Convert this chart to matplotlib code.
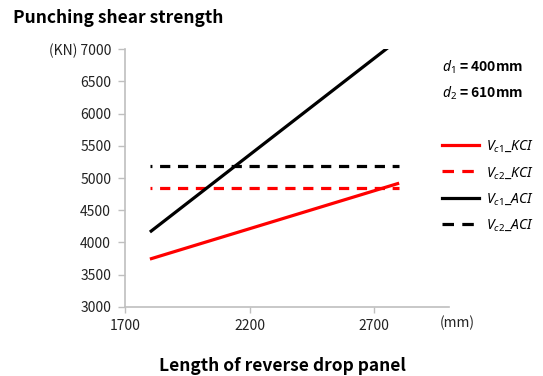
import matplotlib
matplotlib.use("Agg")
import matplotlib.pyplot as plt
from matplotlib.lines import Line2D

# Length of reverse drop panel (mm)
lengths = [1800, 2800]
# Punching shear strength (kN)
vc1_kci = [3740, 4920]
vc2_kci = [4850, 4850]
vc1_aci = [4160, 7160]
vc2_aci = [5180, 5180]

x_ticks = [1700, 2200, 2700]
y_ticks = [3000, 3500, 4000, 4500, 5000, 5500, 6000, 6500, 7000]
y_tick_labels = [str(v) for v in y_ticks[:-1]] + ["(KN) 7000"]

series_labels = [r"$V_{c1}\_KCI$", r"$V_{c2}\_KCI$", r"$V_{c1}\_ACI$", r"$V_{c2}\_ACI$"]

plt.rcParams["font.family"] = ["Noto Sans CJK KR", "DejaVu Sans"]
plt.rcParams["mathtext.fontset"] = "custom"
plt.rcParams["mathtext.it"] = "Noto Sans:italic:bold"
plt.rcParams["mathtext.rm"] = "Noto Sans:bold"

fig = plt.figure(figsize=(5.43, 3.76), dpi=100)
ax = fig.add_axes([125 / 543, 1 - 306.7 / 376, (449 - 125) / 543, (306.7 - 49.3) / 376])

lw = 2.3
dash = (2.6, (3.2, 2.4))
ax.plot(lengths, vc1_kci, color="#ff0000", lw=lw, solid_capstyle="butt")
ax.plot(lengths, vc2_kci, color="#ff0000", lw=lw, linestyle=dash, dash_capstyle="butt")
ax.plot(lengths, vc1_aci, color="#000000", lw=lw, solid_capstyle="butt")
ax.plot(lengths, vc2_aci, color="#000000", lw=lw, linestyle=dash, dash_capstyle="butt")

ax.set_xlim(1700, 3000)
ax.set_ylim(3000, 7000)
ax.set_xticks(x_ticks)
ax.set_yticks(y_ticks)
ax.set_yticklabels(y_tick_labels)

for side in ("top", "right"):
    ax.spines[side].set_visible(False)
for side in ("left", "bottom"):
    ax.spines[side].set_color("#bfbfbf")
    ax.spines[side].set_linewidth(1.2)
ax.tick_params(axis="y", length=5, width=1, color="#bfbfbf", pad=5, labelsize=10, labelcolor="#222222")
ax.tick_params(axis="x", length=4, width=1, color="#bfbfbf", pad=5, labelsize=10, labelcolor="#222222")

fig.text(13 / 543, 1 - 18 / 376, "Punching shear strength", fontsize=12.5, fontweight="bold",
         va="center", ha="left")
fig.text(282 / 543, 1 - 366 / 376, "Length of reverse drop panel", fontsize=12.5, fontweight="bold",
         va="center", ha="center")
fig.text(440 / 543, 1 - 323 / 376, "(mm)", fontsize=10, va="center", ha="left", color="#222222")

fig.text(442 / 543, 1 - 67 / 376, r"$d_1$ = 400mm", fontsize=10, fontweight="bold", va="center", ha="left")
fig.text(442 / 543, 1 - 93 / 376, r"$d_2$ = 610mm", fontsize=10, fontweight="bold", va="center", ha="left")

legend_dash = (0, (3.6, 2.6))
handles = [
    Line2D([], [], color="#ff0000", lw=lw),
    Line2D([], [], color="#ff0000", lw=lw, linestyle=legend_dash, dash_capstyle="butt"),
    Line2D([], [], color="#000000", lw=lw),
    Line2D([], [], color="#000000", lw=lw, linestyle=legend_dash, dash_capstyle="butt"),
]
leg = fig.legend(handles, series_labels, loc="upper left", bbox_to_anchor=(436 / 543, 1 - 133 / 376),
                 frameon=False, fontsize=10, handlelength=2.7, handletextpad=0.5, labelspacing=0.75,
                 borderaxespad=0)

fig.savefig("out.png", dpi=100)
